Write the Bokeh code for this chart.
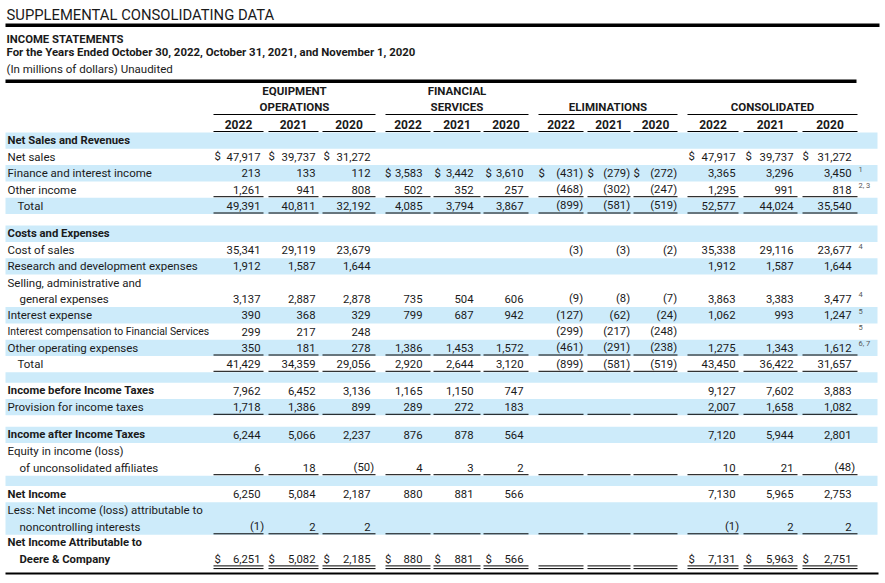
from bokeh.plotting import figure
from bokeh.models import Range1d
from bokeh.core.properties import value
from bokeh.embed import file_html
from bokeh.resources import INLINE

# ---------------- data ----------------
title_text = "SUPPLEMENTAL CONSOLIDATING DATA"
subtitle_1 = "INCOME STATEMENTS"
subtitle_2 = "For the Years Ended October 30, 2022, October 31, 2021, and November 1, 2020"
subtitle_3 = "(In millions of dollars) Unaudited"

group_names = [["EQUIPMENT", "OPERATIONS"], ["FINANCIAL", "SERVICES"], ["ELIMINATIONS"], ["CONSOLIDATED"]]
years = ["2022", "2021", "2020"]

row_labels = [
    "Net Sales and Revenues",
    "Net sales",
    "Finance and interest income",
    "Other income",
    "Total",
    "Costs and Expenses",
    "Cost of sales",
    "Research and development expenses",
    "Selling, administrative and\ngeneral expenses",
    "Interest expense",
    "Interest compensation to Financial Services",
    "Other operating expenses",
    "Total",
    "Income before Income Taxes",
    "Provision for income taxes",
    "Income after Income Taxes",
    "Equity in income (loss)\nof unconsolidated affiliates",
    "Net Income",
    "Less: Net income (loss) attributable to\nnoncontrolling interests",
    "Net Income Attributable to\nDeere & Company",
]
bold_rows = [0, 5, 13, 15, 17, 19]
footnotes = [None, None, "1", "2, 3", None, None, "4", None, "4", "5", "5", "6, 7",
             None, None, None, None, None, None, None, None]

N = None
equipment_2022 = [N, 47917, 213, 1261, 49391, N, 35341, 1912, 3137, 390, 299, 350, 41429, 7962, 1718, 6244, 6, 6250, -1, 6251]
equipment_2021 = [N, 39737, 133, 941, 40811, N, 29119, 1587, 2887, 368, 217, 181, 34359, 6452, 1386, 5066, 18, 5084, 2, 5082]
equipment_2020 = [N, 31272, 112, 808, 32192, N, 23679, 1644, 2878, 329, 248, 278, 29056, 3136, 899, 2237, -50, 2187, 2, 2185]
financial_2022 = [N, N, 3583, 502, 4085, N, N, N, 735, 799, N, 1386, 2920, 1165, 289, 876, 4, 880, N, 880]
financial_2021 = [N, N, 3442, 352, 3794, N, N, N, 504, 687, N, 1453, 2644, 1150, 272, 878, 3, 881, N, 881]
financial_2020 = [N, N, 3610, 257, 3867, N, N, N, 606, 942, N, 1572, 3120, 747, 183, 564, 2, 566, N, 566]
elim_2022 = [N, N, -431, -468, -899, N, -3, N, -9, -127, -299, -461, -899, N, N, N, N, N, N, N]
elim_2021 = [N, N, -279, -302, -581, N, -3, N, -8, -62, -217, -291, -581, N, N, N, N, N, N, N]
elim_2020 = [N, N, -272, -247, -519, N, -2, N, -7, -24, -248, -238, -519, N, N, N, N, N, N, N]
consol_2022 = [N, 47917, 3365, 1295, 52577, N, 35338, 1912, 3863, 1062, N, 1275, 43450, 9127, 2007, 7120, 10, 7130, -1, 7131]
consol_2021 = [N, 39737, 3296, 991, 44024, N, 29116, 1587, 3383, 993, N, 1343, 36422, 7602, 1658, 5944, 21, 5965, 2, 5963]
consol_2020 = [N, 31272, 3450, 818, 35540, N, 23677, 1644, 3477, 1247, N, 1612, 31657, 3883, 1082, 2801, -48, 2753, 2, 2751]

columns = [equipment_2022, equipment_2021, equipment_2020,
           financial_2022, financial_2021, financial_2020,
           elim_2022, elim_2021, elim_2020,
           consol_2022, consol_2021, consol_2020]

# ---------------- layout ----------------
INK = "#1a1a1a"
BLUE = "#cdebfa"
BODY = "Roboto"

col_left = [213, 268, 322, 385, 433, 483, 538, 587, 633, 687, 743, 802]
col_right = [263, 318, 375, 430, 480, 528, 583, 630, 677, 738, 797, 857]
dollar_x = [214, 268, 323, 384.5, 434, 485, 538, 587, 633, 688, 745, 802]
digit_right = [260, 315, 370, 422, 473, 523, 579, 626, 673, 735, 793, 851]

W, H = 883, 581
p = figure(width=W, height=H, x_range=Range1d(0, W), y_range=Range1d(H, 0),
           output_backend="svg", toolbar_location=None, min_border=0,
           x_axis_location=None, y_axis_location=None)
p.grid.visible = False
p.outline_line_color = None
p.background_fill_color = "white"
p.border_fill_color = "white"


def txt(xs, ys, texts, size=11.5, bold=False, align="left", color=INK):
    if not texts:
        return
    p.text(x=xs, y=ys, text=texts, text_font=value(BODY), text_font_size=f"{size}px",
           text_font_style="bold" if bold else "normal", text_align=align,
           text_baseline="middle", text_color=color)


# row geometry
PITCH = 16.3
spacer_after = {4: 11.6, 12: 10.4, 14: 11.5, 16: 10.2}
top = 132.0
blue = True
bands = []
row_top, row_bottom = [], []
for i, lbl in enumerate(row_labels):
    h = len(lbl.split("\n")) * PITCH
    row_top.append(top)
    row_bottom.append(top + h)
    if blue:
        bands.append((top, top + h))
    blue = not blue
    top += h
    if i in spacer_after:
        if blue:
            bands.append((top, top + spacer_after[i]))
        blue = not blue
        top += spacer_after[i]

p.quad(left=[5] * len(bands), right=[877] * len(bands),
       top=[b[0] for b in bands], bottom=[b[1] for b in bands],
       fill_color=BLUE, line_color=None)

# heavy rules
p.quad(left=[5, 5], right=[879, 856], top=[23, 79], bottom=[26.5, 82.5], fill_color="black", line_color=None)
p.segment(x0=[5], y0=[573], x1=[878], y1=[573], line_color="black", line_width=2)

# titles
txt([6], [14.5], [title_text], size=14.8)
txt([6], [39], [subtitle_1], size=11.3, bold=True)
txt([6], [51.5], [subtitle_2], size=11.4, bold=True)
txt([6], [68.5], [subtitle_3], size=11.5)

# column headers
for g, names in enumerate(group_names):
    c0 = 3 * g
    cx = (col_left[c0] + col_right[c0 + 2]) / 2
    ys = [90, 106] if len(names) == 2 else [106]
    txt([cx] * len(names), ys, names, size=11.5, bold=True, align="center")
    p.segment(x0=[col_left[c0]], y0=[114], x1=[col_right[c0 + 2]], y1=[114], line_color="black", line_width=1.2)
yx = [(col_left[c] + col_right[c]) / 2 for c in range(12)]
txt(yx, [123.5] * 12, years * 4, size=12, bold=True, align="center")
p.segment(x0=col_left, y0=[131] * 12, x1=col_right, y1=[131] * 12, line_color="black", line_width=1.2)

# row labels
lab_x, lab_y, lab_t = [], [], []
bold_x, bold_y, bold_t = [], [], []
small_x, small_y, small_t = [], [], []
for i, lbl in enumerate(row_labels):
    lines = lbl.split("\n")
    for k, line in enumerate(lines):
        y = row_top[i] + PITCH * (k + 0.5)
        indent = 7
        if k > 0:
            indent = 19
        elif line == "Total":
            indent = 17
        if i in bold_rows:
            bold_x.append(indent); bold_y.append(y); bold_t.append(line)
        elif len(line) > 40:
            small_x.append(indent); small_y.append(y); small_t.append(line)
        else:
            lab_x.append(indent); lab_y.append(y); lab_t.append(line)
txt(lab_x, lab_y, lab_t, size=11.5)
txt(small_x, small_y, small_t, size=10.4)
txt(bold_x, bold_y, bold_t, size=11.3, bold=True)

# numbers
pos_x, pos_y, pos_t = [], [], []
neg_x, neg_y, neg_t = [], [], []
dol_x, dol_y = [], []
last_row = len(row_labels) - 1
for c, col in enumerate(columns):
    first = next(i for i, v in enumerate(col) if v is not None)
    for i, v in enumerate(col):
        if v is None:
            continue
        y = row_bottom[i] - PITCH / 2
        if v < 0:
            neg_x.append(digit_right[c] + 3.6); neg_y.append(y); neg_t.append(f"({abs(v):,})")
        else:
            pos_x.append(digit_right[c]); pos_y.append(y); pos_t.append(f"{v:,}")
        if i == first or i == last_row:
            dol_x.append(dollar_x[c]); dol_y.append(y)
txt(pos_x, pos_y, pos_t, size=11.3, align="right")
txt(neg_x, neg_y, neg_t, size=11.3, align="right")
txt(dol_x, dol_y, ["$"] * len(dol_x), size=11.3)

# footnotes
fx, fy, ft = [], [], []
for i, f in enumerate(footnotes):
    if f:
        fx.append(858); fy.append(row_bottom[i] - PITCH / 2 - 4); ft.append(f)
txt(fx, fy, ft, size=7.5, color="#555555")

# underlines
single_rows = [3, 4, 11, 12, 14, 16, 18]
sx0, sx1, sy = [], [], []
for r in single_rows:
    for c in range(12):
        sx0.append(col_left[c]); sx1.append(col_right[c]); sy.append(row_bottom[r] - 1)
p.segment(x0=sx0, y0=sy, x1=sx1, y1=sy, line_color="black", line_width=1)
dy1 = row_bottom[last_row] - 1.5
dy2 = row_bottom[last_row] + 1.2
p.segment(x0=col_left * 2, y0=[dy1] * 12 + [dy2] * 12, x1=col_right * 2, y1=[dy1] * 12 + [dy2] * 12,
          line_color="black", line_width=1)

open("out.html", "w").write(file_html(p, INLINE))
